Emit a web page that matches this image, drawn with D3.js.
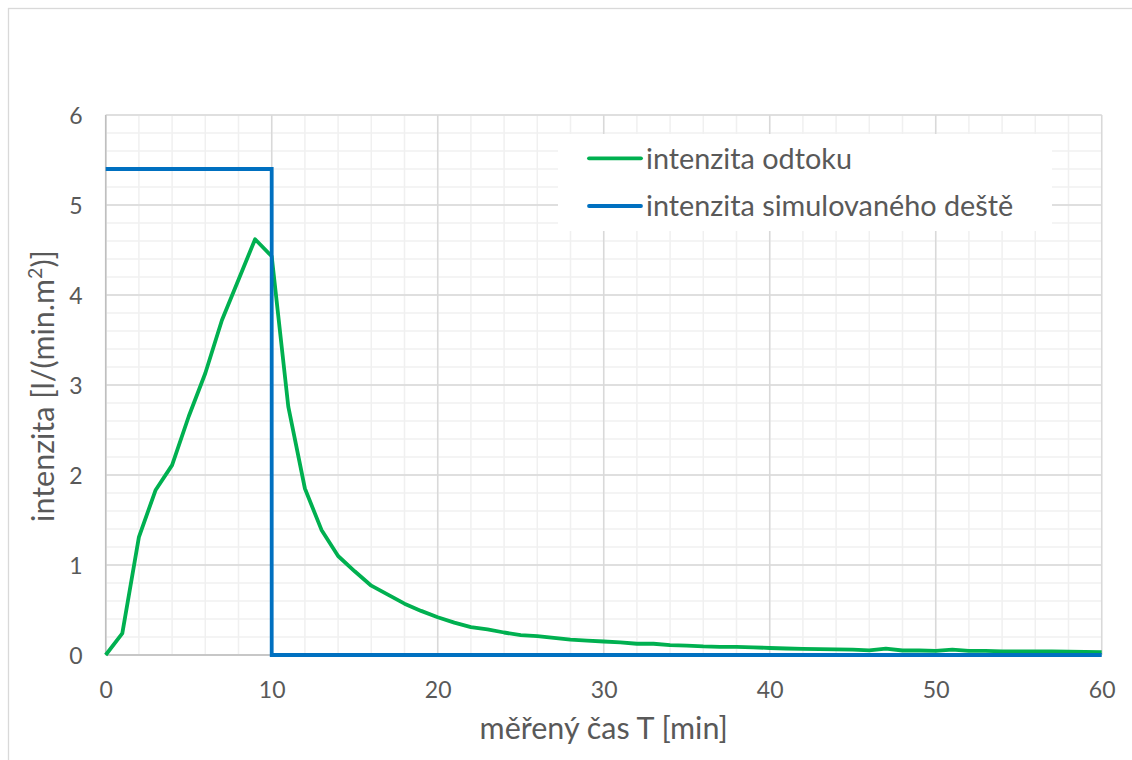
<!DOCTYPE html>
<html>
<head>
<meta charset="utf-8">
<script src="https://cdn.jsdelivr.net/npm/d3@7"></script>
<style>
  html, body { margin: 0; padding: 0; background: #fff; }
  svg text { font-family: Lato, "Liberation Sans", sans-serif; fill: #595959; }
</style>
</head>
<body>
<svg id="chart" width="1132" height="760"></svg>
<script>
// ---- data ----
const time = d3.range(0, 61); // minutes 0..60
const odtok = [0, 0.24, 1.31, 1.83, 2.11, 2.65, 3.13, 3.72, 4.17, 4.62,
  4.43, 2.76, 1.85, 1.39, 1.10, 0.93, 0.77, 0.67, 0.57, 0.49,
  0.42, 0.36, 0.31, 0.285, 0.25, 0.22, 0.21, 0.19, 0.17, 0.16,
  0.15, 0.14, 0.125, 0.125, 0.11, 0.105, 0.095, 0.09, 0.09, 0.085,
  0.078, 0.072, 0.067, 0.065, 0.063, 0.06, 0.052, 0.07, 0.05, 0.05,
  0.045, 0.06, 0.045, 0.045, 0.04, 0.04, 0.04, 0.04, 0.038, 0.035, 0.033];
const rainTime = [0, 10, 10, 60];
const rainValue = [5.4, 5.4, 0, 0];
const seriesNames = ["intenzita odtoku", "intenzita simulovaného deště"];
const seriesColors = ["#00B050", "#0070C0"];
const xTicks = [0, 10, 20, 30, 40, 50, 60];
const yTicks = [0, 1, 2, 3, 4, 5, 6];
const xMinor = d3.range(0, 61, 2);
const yMinor = d3.range(0, 31).map(i => i * 0.2);
const xTitle = "měřený čas T [min]";

// ---- layout ----
const svg = d3.select("#chart");
const m = { left: 105.7, right: 1101.7, top: 115, bottom: 655 };
const x = d3.scaleLinear().domain([0, 60]).range([m.left, m.right]);
const y = d3.scaleLinear().domain([0, 6]).range([m.bottom, m.top]);
const FONT = 'Lato, "Liberation Sans", sans-serif';

// chart frame
svg.append("rect").attr("x", 8.5).attr("y", 8.5).attr("width", 1200).attr("height", 800)
  .attr("fill", "#fff").attr("stroke", "#d9d9d9").attr("stroke-width", 1.3);

// minor grid
const g = svg.append("g");
g.selectAll(".vminor").data(xMinor).enter().append("line")
  .attr("x1", d => x(d)).attr("x2", d => x(d)).attr("y1", m.top).attr("y2", m.bottom)
  .attr("stroke", "#f0f0f0").attr("stroke-width", 1.5);
g.selectAll(".hminor").data(yMinor).enter().append("line")
  .attr("y1", d => y(d)).attr("y2", d => y(d)).attr("x1", m.left).attr("x2", m.right)
  .attr("stroke", "#f0f0f0").attr("stroke-width", 1.5);
// major grid
g.selectAll(".vmajor").data(xTicks).enter().append("line")
  .attr("x1", d => x(d)).attr("x2", d => x(d)).attr("y1", m.top).attr("y2", m.bottom)
  .attr("stroke", "#d9d9d9").attr("stroke-width", 1.5);
g.selectAll(".hmajor").data(yTicks).enter().append("line")
  .attr("y1", d => y(d)).attr("y2", d => y(d)).attr("x1", m.left).attr("x2", m.right)
  .attr("stroke", "#d9d9d9").attr("stroke-width", 1.5);

// axes (d3 axes for tick labels)
const xAxis = d3.axisBottom(x).tickValues(xTicks).tickSize(0).tickPadding(0).tickFormat(d3.format("d"));
const yAxis = d3.axisLeft(y).tickValues(yTicks).tickSize(0).tickPadding(0).tickFormat(d3.format("d"));
const gx = svg.append("g").attr("transform", `translate(0,${m.bottom})`).call(xAxis);
gx.select(".domain").remove();
gx.selectAll("text").attr("y", 43).attr("dy", 0).attr("font-size", 23)
  .style("font-family", FONT).attr("fill", "#595959");
const gy = svg.append("g").attr("transform", `translate(${m.left},0)`).call(yAxis);
gy.select(".domain").remove();
gy.selectAll("text").attr("x", -23).attr("dy", "0.36em").attr("font-size", 23)
  .style("font-family", FONT).attr("fill", "#595959");

// axis lines
svg.append("line").attr("x1", m.left).attr("x2", m.left).attr("y1", m.top).attr("y2", m.bottom)
  .attr("stroke", "#bfbfbf").attr("stroke-width", 1.5);
svg.append("line").attr("x1", m.left).attr("x2", m.right).attr("y1", m.bottom).attr("y2", m.bottom)
  .attr("stroke", "#bfbfbf").attr("stroke-width", 1.5);

// series
const line = d3.line().x(d => x(d[0])).y(d => y(d[1]));
svg.append("path").datum(time.map((t, i) => [t, odtok[i]]))
  .attr("d", line).attr("fill", "none").attr("stroke", seriesColors[0])
  .attr("stroke-width", 3.8).attr("stroke-linejoin", "round");
svg.append("path").datum(rainTime.map((t, i) => [t, rainValue[i]]))
  .attr("d", line).attr("fill", "none").attr("stroke", seriesColors[1])
  .attr("stroke-width", 3.8).attr("stroke-linejoin", "miter");

// legend
const lg = svg.append("g");
lg.append("rect").attr("x", 558).attr("y", 134).attr("width", 494).attr("height", 97).attr("fill", "#fff");
seriesNames.forEach((name, i) => {
  const ly = 158.3 + i * 47.7;
  lg.append("line").attr("x1", 589).attr("x2", 641).attr("y1", ly).attr("y2", ly)
    .attr("stroke", seriesColors[i]).attr("stroke-width", 3.8).attr("stroke-linecap", "round");
  lg.append("text").attr("x", 646).attr("y", ly).attr("dy", "0.36em").attr("font-size", 28.8).text(name);
});

// axis titles
svg.append("text").attr("x", (m.left + m.right) / 2).attr("y", 739).attr("text-anchor", "middle")
  .attr("font-size", 30.5).text(xTitle);
const yt = svg.append("text").attr("transform", "translate(54,386) rotate(-90)")
  .attr("text-anchor", "middle").attr("font-size", 30.5);
yt.append("tspan").text("intenzita [l/(min.m");
yt.append("tspan").attr("font-size", 19.5).attr("dy", -12).text("2");
yt.append("tspan").attr("dy", 12).text(")]");
</script>
</body>
</html>
